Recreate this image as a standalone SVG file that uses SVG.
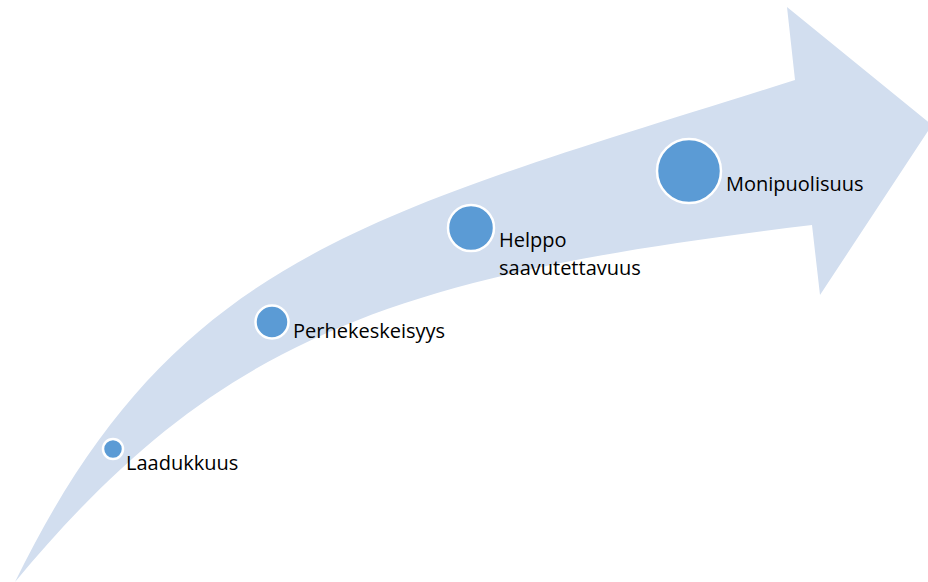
<svg xmlns="http://www.w3.org/2000/svg" width="928" height="582" viewBox="0 0 928 582">
  <style>
    .band { fill: #D2DEEF; }
    .dot { fill: #5B9BD5; stroke: #FFFFFF; stroke-width: 2.5; }
    .lbl { font-family: "Open Sans", "Liberation Sans", sans-serif; font-size: 20px; fill: #000000; }
  </style>
  <rect x="0" y="0" width="928" height="582" fill="#FFFFFF"/>
  <g id="arrow">
    <path class="band" d="M15,582 C175,254 367.5,215 795,80 L787,7 L932,125 L820,295 L812,225 C394.5,275 219,336 15,582 Z"/>
  </g>
  <g id="connectors"></g>
  <g id="node-laadukkuus">
    <circle class="dot" cx="113" cy="449" r="10"/>
    <text class="lbl" x="126" y="470">Laadukkuus</text>
  </g>
  <g id="node-perhekeskeisyys">
    <circle class="dot" cx="272" cy="322" r="16.5"/>
    <text class="lbl" x="293" y="338">Perhekeskeisyys</text>
  </g>
  <g id="node-helppo">
    <circle class="dot" cx="471" cy="228" r="23"/>
    <text class="lbl" x="499" y="247">Helppo</text>
    <text class="lbl" x="499" y="274.5">saavutettavuus</text>
  </g>
  <g id="node-monipuolisuus">
    <circle class="dot" cx="689" cy="171" r="32"/>
    <text class="lbl" x="726" y="191">Monipuolisuus</text>
  </g>
</svg>
